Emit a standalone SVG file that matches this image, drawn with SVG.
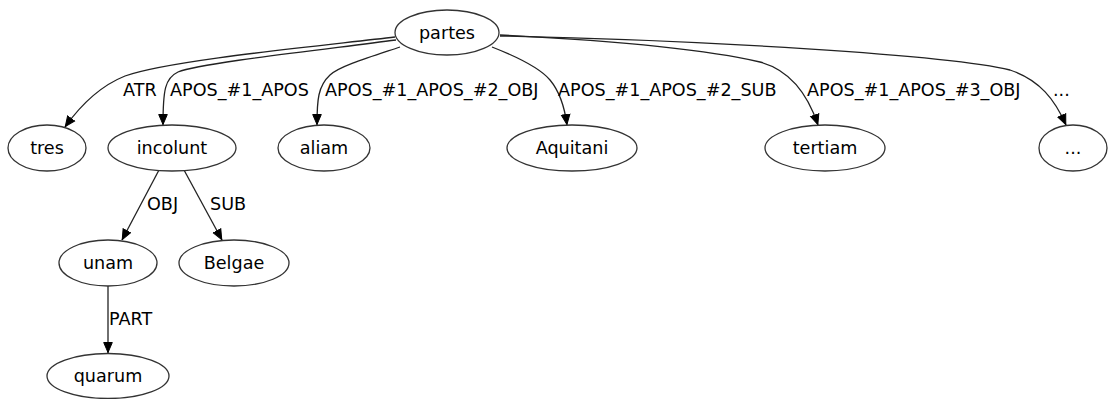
<svg xmlns="http://www.w3.org/2000/svg" width="1111" height="399" viewBox="0 0 1111 399">
<style>
.node ellipse{fill:#fff;stroke:#333;stroke-width:1.3}
.node text{font-family:"DejaVu Sans",sans-serif;font-size:17.6px;fill:#000;text-anchor:middle}
.edge path{fill:none;stroke:#222;stroke-width:1.3}
.lbl{font-family:"DejaVu Sans",sans-serif;font-size:17.6px;fill:#000}
</style>
<defs>
<marker id="arr" viewBox="0 -6 11 12" refX="11" refY="0" markerWidth="11" markerHeight="12" markerUnits="userSpaceOnUse" orient="auto">
<path d="M0.5,-4.3 L10.5,0 L0.5,4.3 z" fill="#000" stroke="#000" stroke-width="1"/>
</marker>
</defs>
<g id="edges" class="edge">
<path d="M395,37 C320,46 170,60 125,76 C100,86 80,106 65,127" marker-end="url(#arr)"/>
<path d="M396,40 C320,50 200,63 178,72 C165,78 163,90 163,125" marker-end="url(#arr)"/>
<path d="M400,47 C370,57 340,66 330,75 C318,86 317,100 317,125" marker-end="url(#arr)"/>
<path d="M492,47 C520,58 540,68 550,80 C560,92 565,110 567,125" marker-end="url(#arr)"/>
<path d="M500,35 C600,40 700,48 760,62 C790,70 808,95 818,125" marker-end="url(#arr)"/>
<path d="M500,36 C700,40 950,55 1010,70 C1040,80 1055,100 1066,125" marker-end="url(#arr)"/>
<path d="M159,170 L122,240" marker-end="url(#arr)"/>
<path d="M184,170 L222,240" marker-end="url(#arr)"/>
<path d="M108,286 L108,353" marker-end="url(#arr)"/>
<text class="lbl" x="123" y="96">ATR</text>
<text class="lbl" x="170" y="96">APOS_#1_APOS</text>
<text class="lbl" x="325" y="96">APOS_#1_APOS_#2_OBJ</text>
<text class="lbl" x="558" y="96">APOS_#1_APOS_#2_SUB</text>
<text class="lbl" x="807" y="96">APOS_#1_APOS_#3_OBJ</text>
<text class="lbl" x="1053" y="96">...</text>
<text class="lbl" x="147" y="210">OBJ</text>
<text class="lbl" x="210" y="210">SUB</text>
<text class="lbl" x="109" y="325">PART</text>
</g>
<g id="partes" class="node"><ellipse cx="447" cy="32.5" rx="52" ry="22.5"/><text x="447" y="38.5">partes</text></g>
<g id="tres" class="node"><ellipse cx="47" cy="148" rx="39" ry="23"/><text x="47" y="154">tres</text></g>
<g id="incolunt" class="node"><ellipse cx="172" cy="148" rx="64" ry="23"/><text x="172" y="154">incolunt</text></g>
<g id="aliam" class="node"><ellipse cx="324" cy="148" rx="46" ry="23"/><text x="324" y="154">aliam</text></g>
<g id="Aquitani" class="node"><ellipse cx="572" cy="148" rx="65" ry="23"/><text x="572" y="154">Aquitani</text></g>
<g id="tertiam" class="node"><ellipse cx="825" cy="148" rx="60" ry="23"/><text x="825" y="154">tertiam</text></g>
<g id="dots" class="node"><ellipse cx="1073" cy="148" rx="34" ry="23"/><text x="1073" y="154">...</text></g>
<g id="unam" class="node"><ellipse cx="108" cy="263" rx="49" ry="23"/><text x="108" y="269">unam</text></g>
<g id="Belgae" class="node"><ellipse cx="234" cy="263" rx="55" ry="23"/><text x="234" y="269">Belgae</text></g>
<g id="quarum" class="node"><ellipse cx="108" cy="376" rx="61" ry="22.5"/><text x="108" y="382">quarum</text></g>
</svg>
